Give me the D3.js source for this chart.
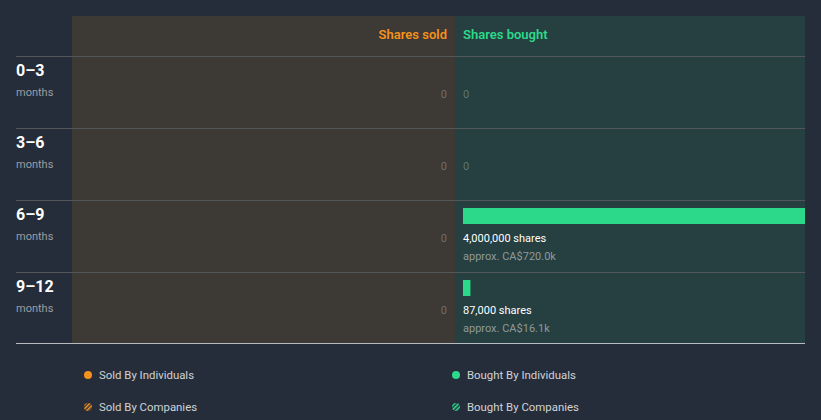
<!DOCTYPE html>
<html><head><meta charset="utf-8">
<script src="https://cdn.jsdelivr.net/npm/d3@7"></script>
<style>
html,body{margin:0;padding:0;background:#262d3a;}
text{font-family:Roboto,"Open Sans",sans-serif;}
</style></head>
<body>
<svg id="c" width="821" height="420"></svg>
<script>
const periods = ["0\u20133","3\u20136","6\u20139","9\u201312"];
const sharesSold = [0,0,0,0];
const sharesBought = [0,0,4000000,87000];
const boughtValue = ["","","approx. CA$720.0k","approx. CA$16.1k"];
const legendItems = ["Sold By Individuals","Bought By Individuals","Sold By Companies","Bought By Companies"];

const svg = d3.select("#c");
const orange = "#f5921b", green = "#2cd98b";
const L = {left:16, panelL:72, mid:455, right:805, top:16, headH:40, bottom:343};

const y = d3.scaleBand().domain(periods).range([L.top+L.headH, L.top+L.headH+288]);
const xB = d3.scaleLinear().domain([0, d3.max(sharesBought)]).range([L.mid+8, L.right]);
const xS = d3.scaleLinear().domain([0, d3.max(sharesBought)]).range([L.mid-8, L.panelL]);

const defs = svg.append("defs");
[["hO",orange],["hG",green]].forEach(([id,c])=>{
  const p = defs.append("pattern").attr("id",id).attr("width",3).attr("height",3)
    .attr("patternUnits","userSpaceOnUse").attr("patternTransform","rotate(45)");
  p.append("rect").attr("width",1.6).attr("height",3).attr("fill",c);
});

svg.append("rect").attr("x",L.panelL).attr("y",L.top).attr("width",L.mid-L.panelL).attr("height",L.bottom-L.top).attr("fill","#3d3935");
svg.append("rect").attr("x",L.mid).attr("y",L.top).attr("width",L.right-L.mid).attr("height",L.bottom-L.top).attr("fill","#263f40");

svg.append("text").attr("x",L.mid-8).attr("y",39).attr("text-anchor","end").attr("fill",orange)
  .attr("font-size",13).attr("font-weight",600).text("Shares sold");
svg.append("text").attr("x",L.mid+8).attr("y",39).attr("fill",green)
  .attr("font-size",13).attr("font-weight",600).text("Shares bought");

periods.forEach(p=>{
  svg.append("line").attr("x1",L.left).attr("x2",L.right).attr("y1",y(p)+0.5).attr("y2",y(p)+0.5)
    .attr("stroke","#53575b").attr("stroke-width",1);
});
svg.append("line").attr("x1",L.left).attr("x2",L.right).attr("y1",L.bottom+0.5).attr("y2",L.bottom+0.5)
  .attr("stroke","#b8bcc2").attr("stroke-width",1);

const rows = svg.selectAll("g.row").data(periods).join("g").attr("class","row")
  .attr("transform",d=>`translate(0,${y(d)})`);
rows.append("text").attr("x",L.left).attr("y",20).attr("fill","#ffffff").attr("font-size",16)
  .attr("font-weight",700).text(d=>d);
rows.append("text").attr("x",L.left).attr("y",40).attr("fill","#9a9ea4").attr("font-size",11).text("months");

rows.each(function(d,i){
  const g = d3.select(this);
  g.append("text").attr("x",xS(0)).attr("y",42).attr("text-anchor","end").attr("fill","#6f6c69")
    .attr("font-size",11).text(sharesSold[i]);
  const v = sharesBought[i];
  if(v===0){
    g.append("text").attr("x",xB(0)).attr("y",42).attr("fill","#5f7473").attr("font-size",11).text("0");
  } else {
    g.append("rect").attr("x",xB(0)).attr("y",8).attr("width",xB(v)-xB(0)).attr("height",16).attr("fill",green);
    g.append("text").attr("x",xB(0)).attr("y",42).attr("fill","#ffffff").attr("font-size",11)
      .text(d3.format(",")(v)+" shares");
    g.append("text").attr("x",xB(0)).attr("y",60).attr("fill","#8f9a9b").attr("font-size",11)
      .text(boughtValue[i]);
  }
});

const lg = [
  {t:legendItems[0],x:88,y:375,c:orange,h:false},
  {t:legendItems[1],x:456,y:375,c:green,h:false},
  {t:legendItems[2],x:88,y:407,c:orange,h:true},
  {t:legendItems[3],x:456,y:407,c:green,h:true}
];
lg.forEach(l=>{
  svg.append("circle").attr("cx",l.x).attr("cy",l.y).attr("r",4)
    .attr("fill",l.h ? (l.c===orange?"url(#hO)":"url(#hG)") : l.c);
  svg.append("text").attr("x",l.x+11).attr("y",l.y+4).attr("fill","#d0d3d7").attr("font-size",11.4).text(l.t);
});
</script>
</body></html>
